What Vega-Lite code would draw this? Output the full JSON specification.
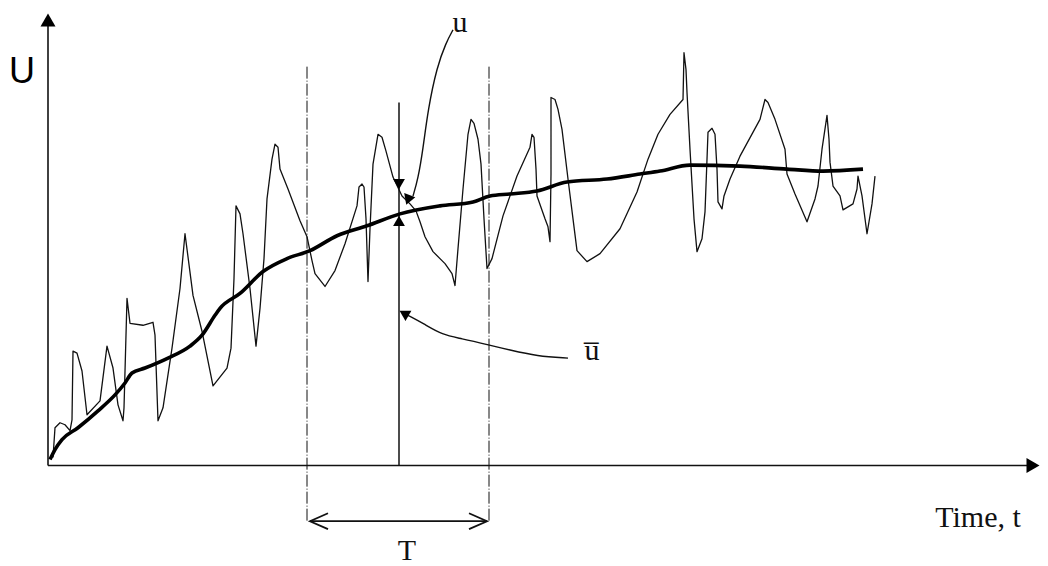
{
  "$schema": "https://vega.github.io/schema/vega-lite/v6.json",
  "width": 1048,
  "height": 566,
  "autosize": {"type": "fit", "contains": "padding"},
  "padding": 0,
  "background": "white",
  "config": {"view": {"stroke": null}},
  "datasets": {
    "turbulent": [
      {"t":5,"U":8},{"t":7,"U":38},{"t":12,"U":43},{"t":17,"U":41},{"t":22,"U":35},{"t":24,"U":46},{"t":25,"U":115},{"t":29,"U":113},{"t":34,"U":95},{"t":39,"U":51},{"t":52,"U":65},{"t":59,"U":120},{"t":65,"U":98},{"t":70,"U":61},{"t":75,"U":45},{"t":76,"U":58},{"t":79,"U":168},{"t":82,"U":143},{"t":95,"U":141},{"t":105,"U":144},{"t":107,"U":131},{"t":110,"U":45},{"t":115,"U":58},{"t":124,"U":118},{"t":132,"U":178},{"t":137,"U":233},{"t":145,"U":171},{"t":154,"U":135},{"t":165,"U":80},{"t":179,"U":98},{"t":183,"U":118},{"t":186,"U":188},{"t":188,"U":261},{"t":192,"U":253},{"t":195,"U":233},{"t":202,"U":178},{"t":208,"U":120},{"t":212,"U":158},{"t":216,"U":208},{"t":219,"U":268},{"t":224,"U":308},{"t":227,"U":323},{"t":230,"U":320},{"t":232,"U":298},{"t":240,"U":278},{"t":252,"U":246},{"t":259,"U":230},{"t":264,"U":206},{"t":267,"U":193},{"t":277,"U":180},{"t":287,"U":196},{"t":297,"U":223},{"t":309,"U":261},{"t":311,"U":280},{"t":314,"U":283},{"t":316,"U":280},{"t":318,"U":248},{"t":320,"U":185},{"t":322,"U":238},{"t":325,"U":303},{"t":330,"U":333},{"t":334,"U":330},{"t":338,"U":316},{"t":345,"U":290},{"t":354,"U":271},{"t":362,"U":263},{"t":368,"U":256},{"t":372,"U":245},{"t":377,"U":230},{"t":385,"U":215},{"t":397,"U":203},{"t":404,"U":193},{"t":407,"U":181},{"t":410,"U":218},{"t":415,"U":278},{"t":420,"U":333},{"t":423,"U":348},{"t":426,"U":344},{"t":430,"U":328},{"t":433,"U":303},{"t":436,"U":248},{"t":439,"U":198},{"t":444,"U":208},{"t":455,"U":251},{"t":469,"U":291},{"t":482,"U":320},{"t":484,"U":333},{"t":486,"U":330},{"t":488,"U":298},{"t":489,"U":271},{"t":497,"U":248},{"t":500,"U":240},{"t":502,"U":225},{"t":503,"U":293},{"t":503,"U":370},{"t":507,"U":368},{"t":510,"U":358},{"t":514,"U":338},{"t":520,"U":288},{"t":525,"U":248},{"t":529,"U":216},{"t":539,"U":205},{"t":552,"U":213},{"t":572,"U":238},{"t":589,"U":275},{"t":600,"U":308},{"t":610,"U":333},{"t":622,"U":353},{"t":635,"U":368},{"t":636,"U":415},{"t":638,"U":398},{"t":639,"U":375},{"t":642,"U":318},{"t":646,"U":248},{"t":649,"U":215},{"t":654,"U":228},{"t":657,"U":255},{"t":659,"U":308},{"t":660,"U":335},{"t":664,"U":339},{"t":667,"U":333},{"t":669,"U":298},{"t":670,"U":265},{"t":674,"U":258},{"t":676,"U":271},{"t":682,"U":288},{"t":692,"U":311},{"t":712,"U":348},{"t":717,"U":368},{"t":720,"U":365},{"t":727,"U":348},{"t":737,"U":318},{"t":739,"U":293},{"t":747,"U":273},{"t":759,"U":245},{"t":767,"U":268},{"t":770,"U":281},{"t":774,"U":318},{"t":779,"U":352},{"t":781,"U":328},{"t":782,"U":305},{"t":785,"U":281},{"t":792,"U":271},{"t":795,"U":257},{"t":805,"U":263},{"t":809,"U":278},{"t":810,"U":291},{"t":814,"U":271},{"t":819,"U":233},{"t":824,"U":263},{"t":827,"U":291}
    ],
    "mean": [
      {"t":2,"U":6},{"t":7,"U":16},{"t":14,"U":26},{"t":30,"U":38},{"t":50,"U":55},{"t":67,"U":71},{"t":77,"U":83},{"t":84,"U":93},{"t":97,"U":98},{"t":120,"U":108},{"t":142,"U":120},{"t":154,"U":131},{"t":167,"U":151},{"t":172,"U":158},{"t":192,"U":173},{"t":215,"U":195},{"t":239,"U":208},{"t":262,"U":216},{"t":289,"U":231},{"t":319,"U":241},{"t":352,"U":253},{"t":392,"U":261},{"t":425,"U":265},{"t":442,"U":271},{"t":462,"U":273},{"t":489,"U":276},{"t":519,"U":285},{"t":559,"U":288},{"t":592,"U":293},{"t":612,"U":296},{"t":642,"U":302},{"t":692,"U":301},{"t":739,"U":298},{"t":775,"U":296},{"t":815,"U":298}
    ],
    "axes": [
      {"t":0,"U":0,"t2":0,"U2":447},
      {"t":0,"U":0,"t2":984,"U2":0}
    ],
    "probe": [{"t":351,"U":0,"t2":351,"U2":365}],
    "window": [
      {"t":259,"U":401,"t2":259,"U2":-57},
      {"t":441,"U":401,"t2":441,"U2":-57}
    ],
    "span": [{"t":262,"U":-56,"t2":439,"U2":-56}],
    "leaders": [
      {"id":"u","t":405,"U":438},{"id":"u","t":398,"U":425},{"id":"u","t":389,"U":401},{"id":"u","t":380,"U":358},{"id":"u","t":375,"U":318},{"id":"u","t":370,"U":288},{"id":"u","t":365,"U":271},
      {"id":"ubar","t":520,"U":108},{"id":"ubar","t":489,"U":110},{"id":"ubar","t":462,"U":116},{"id":"ubar","t":442,"U":121},{"id":"ubar","t":412,"U":128},{"id":"ubar","t":395,"U":131},{"id":"ubar","t":375,"U":143},{"id":"ubar","t":360,"U":151}
    ],
    "chevrons": [
      {"id":"left","t":280,"U":-48},{"id":"left","t":262,"U":-56},{"id":"left","t":280,"U":-64},
      {"id":"right","t":421,"U":-48},{"id":"right","t":439,"U":-56},{"id":"right","t":421,"U":-64}
    ],
    "labels": [
      {"text":"u","t":412,"U":436},
      {"text":"u̅","t":544,"U":106},
      {"text":"T","t":359,"U":-95},
      {"text":"Time, t","t":930,"U":-62}
    ]
  },
  "encoding": {
    "x": {"field":"t","type":"quantitative","scale":{"domain":[-48,1000]},"axis":null},
    "y": {"field":"U","type":"quantitative","scale":{"domain":[-98,468]},"axis":null}
  },
  "layer": [
    {"data":{"name":"axes"},"mark":{"type":"rule","color":"#111","strokeWidth":1.6},
     "encoding":{"x2":{"field":"t2"},"y2":{"field":"U2"}}},
    {"data":{"name":"probe"},"mark":{"type":"rule","color":"#111","strokeWidth":1.5},
     "encoding":{"x2":{"field":"t2"},"y2":{"field":"U2"}}},
    {"data":{"name":"window"},"mark":{"type":"rule","color":"#111","strokeWidth":1,"strokeDash":[12,2,1,2]},
     "encoding":{"x2":{"field":"t2"},"y2":{"field":"U2"}}},
    {"data":{"name":"span"},"mark":{"type":"rule","color":"#111","strokeWidth":1.8},
     "encoding":{"x2":{"field":"t2"},"y2":{"field":"U2"}}},
    {"data":{"name":"turbulent"},"mark":{"type":"line","color":"#111","strokeWidth":1.3,"interpolate":"linear","strokeJoin":"round"},
     "encoding":{"order":{"value":null}}},
    {"data":{"name":"mean"},"mark":{"type":"line","color":"#000","strokeWidth":3.6,"interpolate":"monotone"},
     "encoding":{"order":{"value":null}}},
    {"data":{"name":"leaders"},"mark":{"type":"line","color":"#111","strokeWidth":1.4,"interpolate":"basis"},
     "encoding":{"detail":{"field":"id"},"order":{"value":null}}},
    {"data":{"name":"chevrons"},"mark":{"type":"line","color":"#111","strokeWidth":1.8,"interpolate":"linear"},
     "encoding":{"detail":{"field":"id"},"order":{"value":null}}},
    {"data":{"values":[{"t":0,"U":448}]},"mark":{"type":"point","shape":"triangle-up","filled":true,"color":"#000","size":225,"opacity":1}},
    {"data":{"values":[{"t":985,"U":0}]},"mark":{"type":"point","shape":"triangle-right","filled":true,"color":"#000","size":225,"opacity":1}},
    {"data":{"values":[{"t":351,"U":283}]},"mark":{"type":"point","shape":"triangle-down","filled":true,"color":"#000","size":140,"opacity":1}},
    {"data":{"values":[{"t":351,"U":246}]},"mark":{"type":"point","shape":"triangle-up","filled":true,"color":"#000","size":140,"opacity":1}},
    {"data":{"values":[{"t":360,"U":267}]},"mark":{"type":"point","shape":"triangle-up","angle":200,"filled":true,"color":"#000","size":140,"opacity":1}},
    {"data":{"values":[{"t":356,"U":153}]},"mark":{"type":"point","shape":"triangle-up","angle":300,"filled":true,"color":"#000","size":140,"opacity":1}},
    {"data":{"values":[{"text":"U","t":-26,"U":385}]},"mark":{"type":"text","font":"Liberation Sans","fontSize":36,"align":"center","baseline":"alphabetic","color":"#000"},
     "encoding":{"text":{"field":"text"}}},
    {"data":{"name":"labels"},"mark":{"type":"text","font":"Liberation Serif","fontSize":30,"align":"center","baseline":"alphabetic","color":"#111"},
     "encoding":{"text":{"field":"text"}}}
  ]
}
